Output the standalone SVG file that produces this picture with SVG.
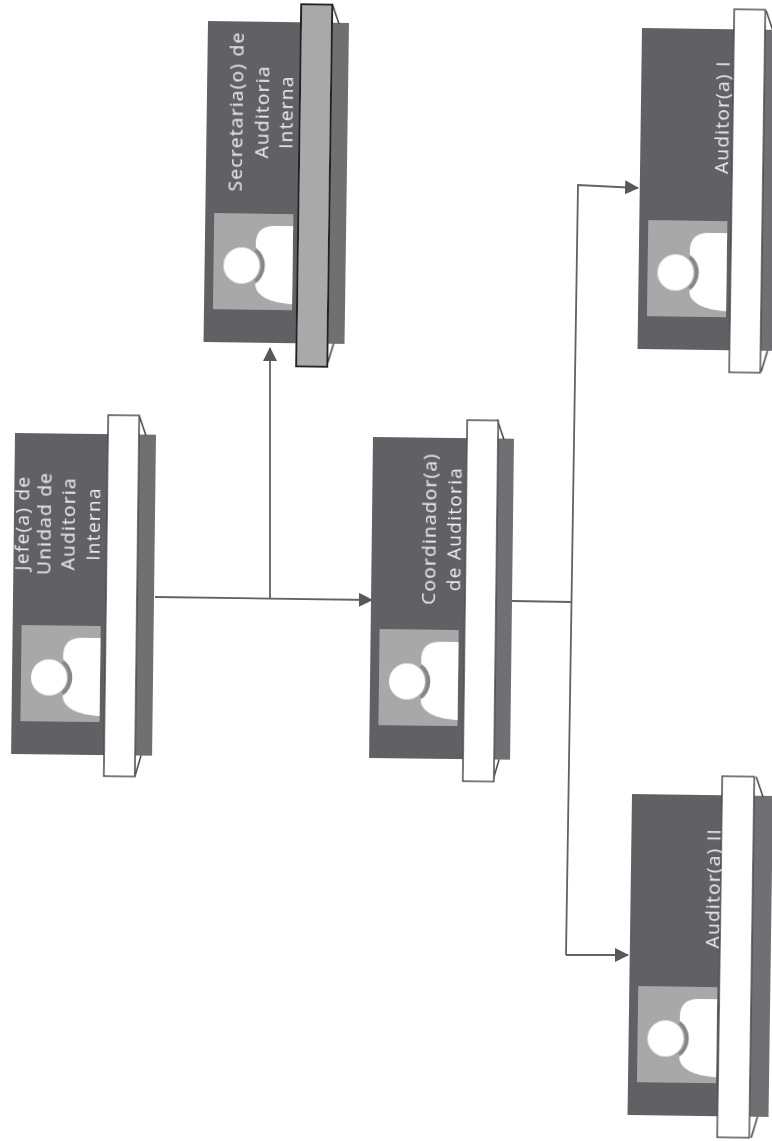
<svg xmlns="http://www.w3.org/2000/svg" width="772" height="1141" viewBox="0 0 772 1141">
<style>
.card{fill:#616165}
.side{fill:#6f6f73}
.photo{fill:#a8a8a8}
.wh{fill:#fff}
.ring{fill:none;stroke:#858585;stroke-width:4}
.band{fill:#fff;stroke:#4a4a4a;stroke-width:1.5}
.band-grey{fill:#a9a9a9;stroke:#222;stroke-width:2}
.fold{fill:none;stroke:#444;stroke-width:1.5}
.label{font-family:"Open Sans","DejaVu Sans",sans-serif;font-size:19px;letter-spacing:1.3px;fill:#e9e9e9;text-anchor:middle}
.link{fill:none;stroke:#626262;stroke-width:1.8}
</style>
<defs>
<marker id="arrow" markerUnits="userSpaceOnUse" markerWidth="16" markerHeight="16" refX="13" refY="7" orient="auto">
<path d="M0 0L14 7L0 14Z" fill="#595959"/>
</marker>
<filter id="soft" x="-5%" y="-5%" width="110%" height="110%"><feGaussianBlur stdDeviation="0.6"/></filter>
<g id="card">
<rect class="card" x="0" y="0" width="93" height="321"/>
<rect class="side" x="93" y="0" width="48" height="321"/>
<rect class="photo" x="9" y="192" width="79" height="96"/>
<path class="ring" d="M51 228A21 21 0 0 1 51 260"/>
<path class="wh" d="M88 204H70Q52 204 51 220V226A22 22 0 0 1 51 262C51 274 66 281 88 282Z"/>
<circle class="wh" cx="37" cy="244" r="18"/>
<path class="fold" d="M124 -19L131 1M124 342L130 321"/>
</g>
</defs>
<rect width="772" height="1141" fill="#fff"/>
<g id="connectors" filter="url(#soft)">
<path class="link" d="M155 597L372 600" marker-end="url(#arrow)"/>
<path class="link" d="M270 598V348" marker-end="url(#arrow)"/>
<path class="link" d="M512 601L572 602"/>
<path class="link" d="M566 955L578 185L638 188" marker-end="url(#arrow)"/>
<path class="link" d="M566 955L628 955" marker-end="url(#arrow)"/>
</g>
<g id="node-jefe" filter="url(#soft)" transform="translate(15 433) rotate(0.7)">
<use href="#card"/>
<rect class="band" x="93" y="-19" width="31" height="361"/>
<text class="label" transform="translate(15 90) rotate(-90)">Jefe(a) de</text>
<text class="label" transform="translate(37 90) rotate(-90)">Unidad de</text>
<text class="label" transform="translate(61 90) rotate(-90)">Auditoria</text>
<text class="label" transform="translate(86 90) rotate(-90)">Interna</text>
</g>
<g id="node-secretaria" filter="url(#soft)" transform="translate(208 21) rotate(0.8)">
<use href="#card"/>
<rect class="band-grey" x="93" y="-18" width="31" height="362"/>
<text class="label" transform="translate(36 90) rotate(-90)">Secretaria(o) de</text>
<text class="label" transform="translate(62 90) rotate(-90)">Auditoria</text>
<text class="label" transform="translate(86 90) rotate(-90)">Interna</text>
</g>
<g id="node-coordinador" filter="url(#soft)" transform="translate(373 437) rotate(0.7)">
<use href="#card"/>
<rect class="band" x="94" y="-18" width="31" height="361"/>
<text class="label" transform="translate(64 91) rotate(-90)">Coordinador(a)</text>
<text class="label" transform="translate(89 91) rotate(-90)">de Auditoria</text>
</g>
<g id="node-auditor-1" filter="url(#soft)" transform="translate(642 28) rotate(0.8)">
<use href="#card"/>
<rect class="band" x="92" y="-20" width="31" height="363"/>
<text class="label" transform="translate(88 88) rotate(-90)">Auditor(a) I</text>
</g>
<g id="node-auditor-2" filter="url(#soft)" transform="translate(632 794) rotate(0.8)">
<use href="#card"/>
<rect class="band" x="90" y="-19" width="32" height="361"/>
<text class="label" transform="translate(89 93) rotate(-90)">Auditor(a) II</text>
</g>
</svg>
